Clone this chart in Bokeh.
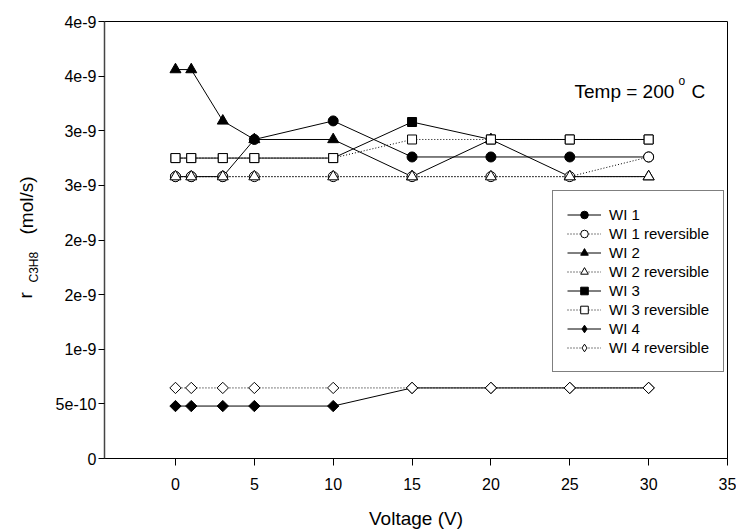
import math
from bokeh.plotting import figure
from bokeh.models import FixedTicker, Label, Legend, LegendItem, Range1d
from bokeh.embed import file_html
from bokeh.resources import INLINE

# ---- data ----
voltage = [0, 1, 3, 5, 10, 15, 20, 25, 30]
wi1 = [2.58e-9, 2.58e-9, 2.58e-9, 2.92e-9, 3.09e-9, 2.76e-9, 2.76e-9, 2.76e-9, 2.76e-9]
wi1_rev = [2.58e-9, 2.58e-9, 2.58e-9, 2.58e-9, 2.58e-9, 2.58e-9, 2.58e-9, 2.58e-9, 2.76e-9]
wi2 = [3.56e-9, 3.56e-9, 3.09e-9, 2.92e-9, 2.92e-9, 2.58e-9, 2.92e-9, 2.58e-9, 2.58e-9]
wi2_rev = [2.58e-9, 2.58e-9, 2.58e-9, 2.58e-9, 2.58e-9, 2.58e-9, 2.58e-9, 2.58e-9, 2.58e-9]
wi3 = [2.75e-9, 2.75e-9, 2.75e-9, 2.75e-9, 2.75e-9, 3.08e-9, 2.92e-9, 2.92e-9, 2.92e-9]
wi3_rev = [2.75e-9, 2.75e-9, 2.75e-9, 2.75e-9, 2.75e-9, 2.92e-9, 2.92e-9, 2.92e-9, 2.92e-9]
wi4 = [0.48e-9, 0.48e-9, 0.48e-9, 0.48e-9, 0.48e-9, 0.646e-9, 0.646e-9, 0.646e-9, 0.646e-9]
wi4_rev = [0.646e-9, 0.646e-9, 0.646e-9, 0.646e-9, 0.646e-9, 0.646e-9, 0.646e-9, 0.646e-9, 0.646e-9]

x_ticks = [0, 5, 10, 15, 20, 25, 30, 35]
y_ticks = [0, 5e-10, 1e-9, 1.5e-9, 2e-9, 2.5e-9, 3e-9, 3.5e-9, 4e-9]
y_tick_labels = ["0", "5e-10", "1e-9", "2e-9", "2e-9", "3e-9", "3e-9", "4e-9", "4e-9"]

FONT = "Liberation Sans"
X0, X1 = -4.5, 35
Y0, Y1 = 0, 4e-9

# page layout (px): frame left/right/top/bottom
FL, FR, FT, FB = 104, 727, 21, 458
W, H = 736, 532

p = figure(width=W, height=H, title=None,
           x_range=Range1d(X0, X1), y_range=Range1d(Y0, Y1),
           output_backend="svg", toolbar_location=None,
           min_border_left=FL, min_border_right=W - FR,
           min_border_top=FT, min_border_bottom=H - FB)
p.xgrid.visible = False
p.ygrid.visible = False
p.outline_line_color = "black"
p.outline_line_width = 1
p.background_fill_color = "white"
p.border_fill_color = "white"

# axes
p.xaxis.ticker = FixedTicker(ticks=x_ticks)
p.yaxis.ticker = FixedTicker(ticks=y_ticks)
p.yaxis.major_label_overrides = {v: s for v, s in zip(y_ticks, y_tick_labels)}
for ax in (p.xaxis[0], p.yaxis[0]):
    ax.axis_line_color = "black"
    ax.major_tick_line_color = "black"
    ax.minor_tick_line_color = None
    ax.major_tick_in = 0
    ax.major_label_text_font = FONT
    ax.major_label_text_font_size = "16px"
    ax.major_label_text_color = "black"
p.yaxis.axis_line_color = "#444444"
p.yaxis.axis_line_width = 1.5
p.xaxis.major_tick_out = 7
p.yaxis.major_tick_out = 6
p.xaxis.major_label_standoff = 12
p.yaxis.major_label_standoff = 2
p.xaxis.axis_label = "Voltage (V)"
p.xaxis.axis_label_text_font = FONT
p.xaxis.axis_label_text_font_size = "19px"
p.xaxis.axis_label_text_font_style = "normal"
p.xaxis.axis_label_text_color = "black"
p.xaxis.axis_label_standoff = 15

DOT = "1 2"

def series(y, marker, filled, dotted, size, angle=0.0):
    ln = p.line(voltage, y, line_color="black", line_width=1,
                line_dash=DOT if dotted else "solid")
    sc = p.scatter(voltage, y, marker=marker, size=size, angle=angle,
                   line_color="black", line_width=1,
                   fill_color="black" if filled else "white")
    return [ln, sc]

r_wi2 = series(wi2, "triangle", True, False, 11)
r_wi1 = series(wi1, "circle", True, False, 10)
r_wi1r = series(wi1_rev, "circle", False, True, 10)
r_wi2r = series(wi2_rev, "triangle", False, True, 11)
r_wi3 = series(wi3, "square", True, False, 9)
r_wi3r = series(wi3_rev, "square", False, True, 9)
r_wi4 = series(wi4, "square", True, False, 8, math.pi / 4)
r_wi4r = series(wi4_rev, "square", False, True, 8, math.pi / 4)

# legend-only diamond glyphs (the legend draws markers unrotated)
lg_wi4 = p.scatter(voltage, wi4, marker="diamond", size=12, line_color="black",
                   fill_color="black", visible=False)
lg_wi4r = p.scatter(voltage, wi4_rev, marker="diamond", size=12, line_color="black",
                    fill_color="white", visible=False)

legend = Legend(items=[
    LegendItem(label="WI 1", renderers=r_wi1),
    LegendItem(label="WI 1 reversible", renderers=r_wi1r),
    LegendItem(label="WI 2", renderers=r_wi2),
    LegendItem(label="WI 2 reversible", renderers=r_wi2r),
    LegendItem(label="WI 3", renderers=r_wi3),
    LegendItem(label="WI 3 reversible", renderers=r_wi3r),
    LegendItem(label="WI 4", renderers=[r_wi4[0], lg_wi4]),
    LegendItem(label="WI 4 reversible", renderers=[r_wi4r[0], lg_wi4r]),
], location=(552 - FL, FB - 372))
legend.label_text_font = FONT
legend.label_text_font_size = "15px"
legend.label_text_color = "black"
legend.label_height = 19
legend.glyph_height = 19
legend.glyph_width = 34
legend.label_standoff = 8
legend.spacing = 0
legend.padding = 14
legend.margin = 0
legend.border_line_color = "black"
legend.border_line_width = 1
legend.background_fill_alpha = 1.0
p.add_layout(legend)


def data_x(px):
    return X0 + (px - FL) * (X1 - X0) / (FR - FL)


def data_y(py):
    return Y0 + (FB - py) * (Y1 - Y0) / (FB - FT)


def make_label(text, px, py, size, angle=0.0):
    return Label(x=data_x(px), y=data_y(py), x_units="data", y_units="data",
                 text=text, text_font=FONT, text_font_size=size,
                 text_color="black", text_align="left",
                 text_baseline="alphabetic", angle=angle)


# temperature note (inside the frame)
p.add_layout(make_label("Temp = 200", 574, 91, "19px"))
p.add_layout(make_label("o", 678, 80, "12px"))
p.add_layout(make_label("C", 691, 91, "19px"))

# y-axis title with subscript (placed in side panels so it is not clipped)
p.add_layout(make_label("C3H8", 33, 282, "12px", math.pi / 2), "left")
p.add_layout(make_label("(mol/s)", 26, 234, "19px", math.pi / 2), "left")
p.add_layout(make_label("r", 25, 298, "19px", math.pi / 2), "above")

open("out.html", "w").write(file_html(p, INLINE))
